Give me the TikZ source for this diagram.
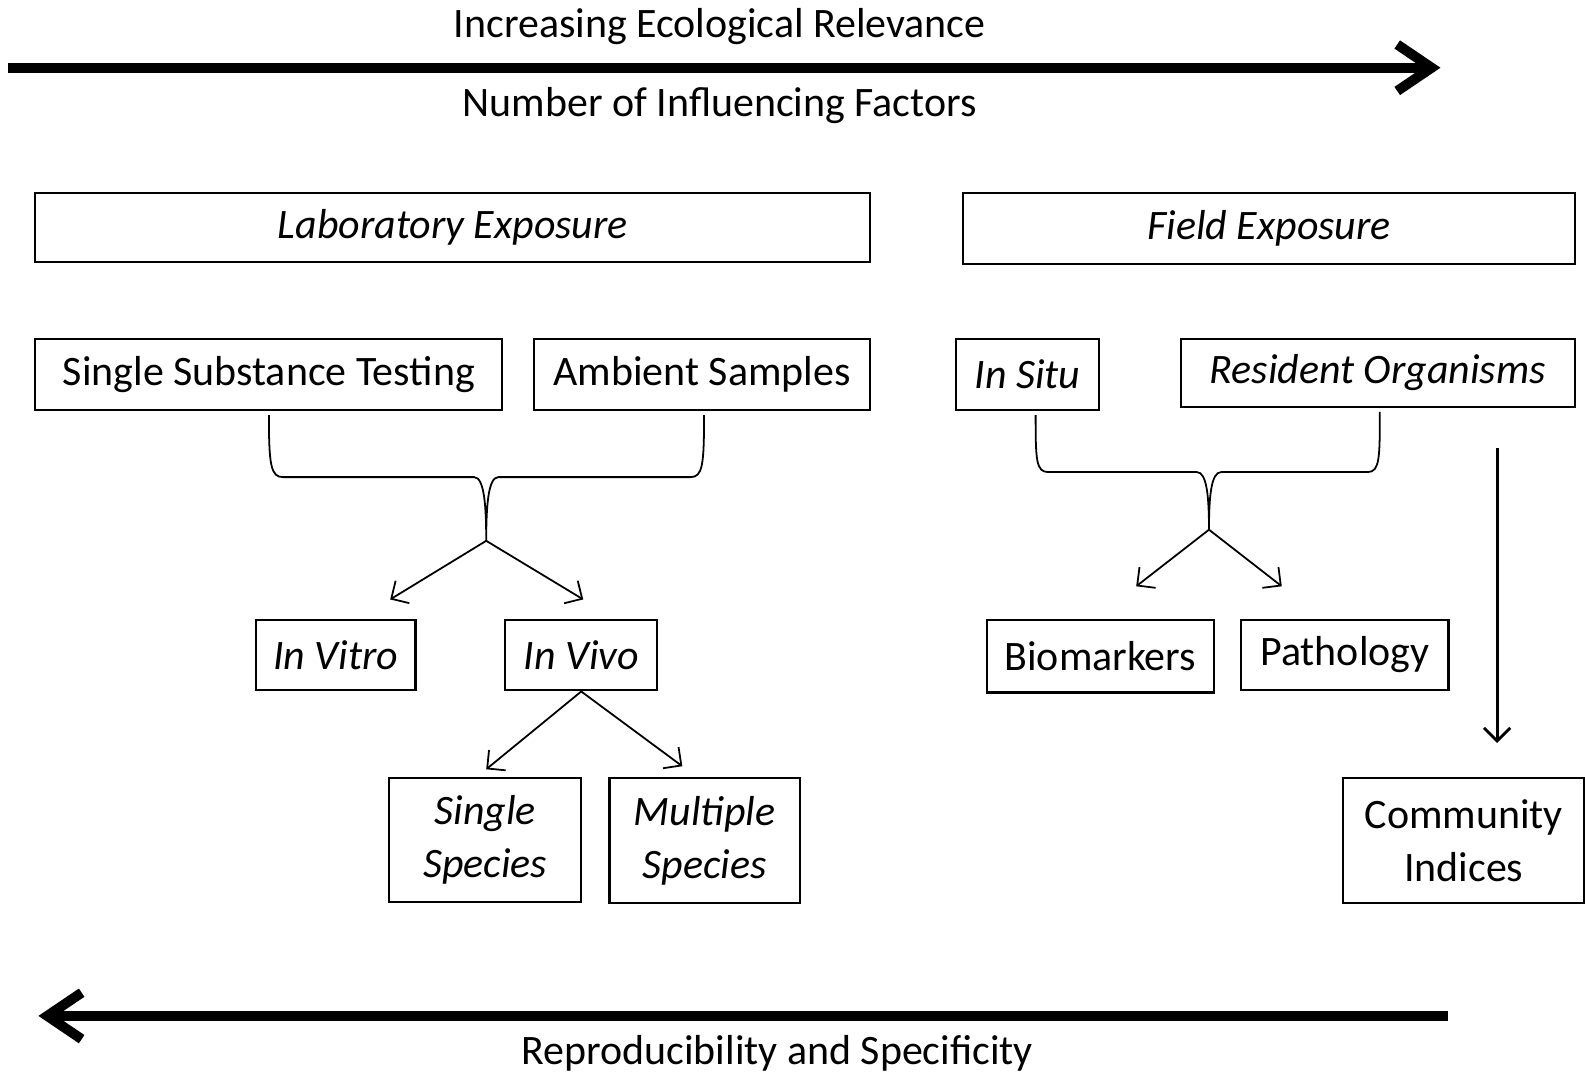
\documentclass[tikz,border=0pt]{standalone}
\usepackage{fontspec}
\setmainfont{Carlito}
\usetikzlibrary{arrows.meta}

\begin{document}
\begin{tikzpicture}[scale=1.0, every node/.style={font=\fontsize{11.8}{15}\selectfont},
        box/.style={draw, line width=0.6pt, inner sep=0pt, align=center},
        link/.style={line width=0.5pt, -{Straight Barb[length=1.3mm,width=2.6mm]}},
        bracket/.style={line width=0.5pt},
        bigarrow/.style={line width=2.8pt, -{Straight Barb[length=3.4mm,width=4.6mm]}}]
        \useasboundingbox (0,0) rectangle (15.68,10.61);

        % top and bottom axes
        \coordinate (relstart) at (0.08,9.94);
        \coordinate (relend) at (14.25,9.94);
        \draw[bigarrow] (relstart) -- (relend);
        \node (relev) at (7.12,10.35) {Increasing Ecological Relevance};
        \node (factors) at (7.12,9.57) {Number of Influencing Factors};

        \coordinate (repstart) at (14.32,0.56);
        \coordinate (repend) at (0.38,0.56);
        \draw[bigarrow] (repstart) -- (repend);
        \node (repro) at (7.69,0.19) {Reproducibility and Specificity};

        % exposure headers
        \node[box, minimum width=8.26cm, minimum height=0.68cm] (lab) at (4.48,8.36) {\textit{Laboratory Exposure}};
        \node[box, minimum width=6.05cm, minimum height=0.70cm] (field) at (12.555,8.35) {\textit{Field Exposure}};

        % laboratory side
        \node[box, minimum width=4.62cm, minimum height=0.71cm] (sst) at (2.66,6.905) {Single Substance Testing};
        \node[box, minimum width=3.33cm, minimum height=0.71cm] (amb) at (6.945,6.905) {Ambient Samples};
        \node[box, minimum width=1.58cm, minimum height=0.70cm] (vitro) at (3.32,4.13) {\textit{In Vitro}};
        \node[box, minimum width=1.50cm, minimum height=0.70cm] (vivo) at (5.75,4.13) {\textit{In Vivo}};
        \node[box, minimum width=1.90cm, minimum height=1.22cm] (single) at (4.80,2.30) {\textit{Single}\\\textit{Species}};
        \node[box, minimum width=1.88cm, minimum height=1.23cm] (multi) at (6.97,2.295) {\textit{Multiple}\\\textit{Species}};

        \coordinate (labtip) at (4.81,5.26);
        \draw[bracket] ([yshift=-1pt]sst.south) .. controls +(0,-0.5) and +(-0.12,0) .. (2.80,5.89)
            -- (4.69,5.89) .. controls +(0.1,0) and +(0,0.35) .. (labtip)
            .. controls +(0,0.35) and +(-0.1,0) .. (4.93,5.89)
            -- (6.83,5.89) .. controls +(0.12,0) and +(0,-0.5) .. ([xshift=0.02cm,yshift=-1pt]amb.south);

        \coordinate (vitroin) at (3.86,4.68);
        \coordinate (vivoin) at (5.77,4.68);
        \draw[link] (labtip) -- (vitroin);
        \draw[link] (labtip) -- (vivoin);

        \coordinate (singlein) at (4.81,3.00);
        \coordinate (multiin) at (6.75,3.03);
        \draw[link] (vivo.south) -- (singlein);
        \draw[link] (vivo.south) -- (multiin);

        % field side
        \node[box, minimum width=1.41cm, minimum height=0.71cm] (situ) at (10.165,6.905) {\textit{In Situ}};
        \node[box, minimum width=3.90cm, minimum height=0.68cm] (resid) at (13.63,6.92) {\textit{Resident Organisms}};
        \node[box, minimum width=2.25cm, minimum height=0.72cm] (bio) at (10.885,4.12) {Biomarkers};
        \node[box, minimum width=2.05cm, minimum height=0.70cm] (path) at (13.305,4.13) {Pathology};
        \node[box, minimum width=2.38cm, minimum height=1.23cm] (comm) at (14.48,2.295) {Community\\Indices};

        \coordinate (fieldtip) at (11.96,5.37);
        \draw[bracket] ([xshift=0.08cm,yshift=-1pt]situ.south) .. controls +(0,-0.45) and +(-0.12,0) .. (10.37,5.94)
            -- (11.84,5.94) .. controls +(0.1,0) and +(0,0.32) .. (fieldtip)
            .. controls +(0,0.32) and +(-0.1,0) .. (12.08,5.94)
            -- (13.53,5.94) .. controls +(0.12,0) and +(0,-0.45) .. ([xshift=0.02cm,yshift=-1pt]resid.south);

        \coordinate (bioin) at (11.24,4.81);
        \coordinate (pathin) at (12.68,4.81);
        \draw[link] (fieldtip) -- (bioin);
        \draw[link] (fieldtip) -- (pathin);

        \coordinate (commstart) at (14.81,6.18);
        \coordinate (commin) at (14.81,3.26);
        \draw[link, line width=0.8pt] (commstart) -- (commin);
    \end{tikzpicture}
\end{document}
